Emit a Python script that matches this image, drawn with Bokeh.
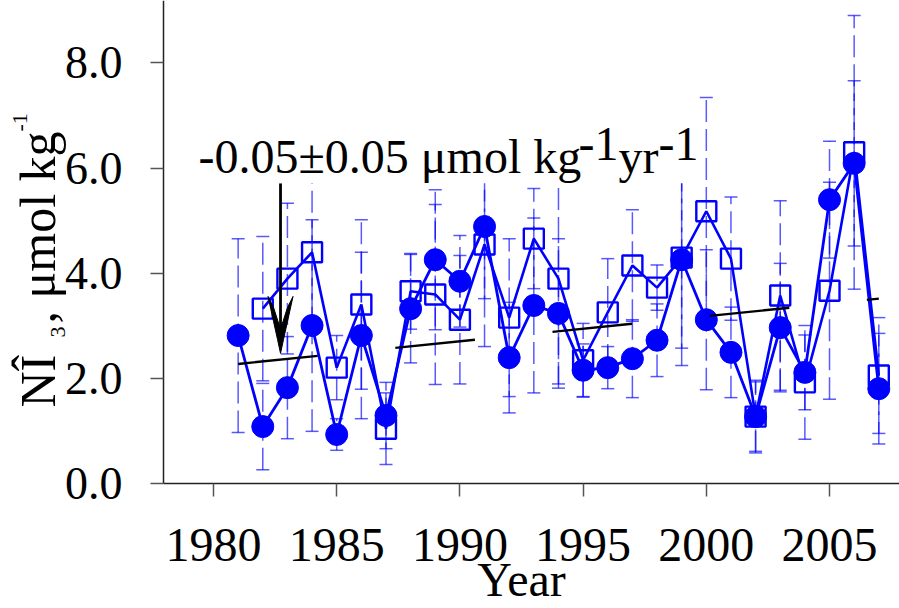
import math
from bokeh.plotting import figure
from bokeh.models import (ColumnDataSource, Whisker, TeeHead, Label, BoxAnnotation,
                          FixedTicker, NumeralTickFormatter, Range1d, LinearAxis, Grid)
from bokeh.embed import file_html
from bokeh.resources import INLINE

# ---------------- data ----------------
years_circle = list(range(1981, 2008))
circle_vals = [2.82, 1.09, 1.83, 3.01, 0.94, 2.82, 1.30, 3.33, 4.26, 3.85, 4.89, 2.40, 3.39,
               3.24, 2.16, 2.21, 2.38, 2.73, 4.26, 3.12, 2.50, 1.28, 2.97, 2.12, 5.40, 6.09, 1.81]
circle_err = [1.84, 0.82, 0.97, 2.01, 0.30, 1.58, 0.63, 1.03, 1.33, 0.87, 1.37, 1.05, 1.66,
              1.42, 0.50, 0.40, 0.74, 0.69, 1.68, 1.33, 0.86, 0.69, 1.22, 0.71, 1.11, 1.57, 1.05]

years_square = list(range(1982, 2008))
square_vals = [3.33, 3.90, 4.40, 2.21, 3.41, 1.05, 3.66, 3.60, 3.12, 4.55, 3.16, 4.66, 3.90,
               2.35, 3.26, 4.15, 3.73, 4.30, 5.18, 4.28, 1.28, 3.58, 1.93, 3.67, 6.30, 2.06]
square_err = [1.37, 1.43, 1.45, 0.61, 1.61, 0.68, 0.72, 1.71, 1.22, 1.94, 1.50, 0.95, 2.00,
              0.70, 1.02, 1.06, 0.43, 2.05, 2.16, 1.17, 0.66, 1.80, 1.08, 2.06, 2.60, 1.10]

trend_years = [1981, 2007]
trend_vals = [2.28, 3.52]

arrow_x = 1982.72
arrow_top = 5.71
arrow_tip = 2.48

x_ticks = [1980, 1985, 1990, 1995, 2000, 2005]
y_ticks = [0, 2, 4, 6, 8]

annot_main = "-0.05\u00b10.05 \u03bcmol kg"
annot_sup = "-1"
annot_yr = "yr"

# ---------------- figure ----------------
BLUE = "#0000ff"
FONT = "Liberation Serif"
W, H = 899, 608
XA, XB = 1971.356, 2007.84          # canvas edges in data units
YA, YB = -2.365, 9.183
AX_X0 = 1977.97                       # where the y axis sits
p = figure(width=W, height=H, x_range=Range1d(XA, XB), y_range=Range1d(YA, YB),
           output_backend="svg", toolbar_location=None,
           x_axis_location=None, y_axis_location=None,
           min_border_left=0, min_border_right=0, min_border_top=0, min_border_bottom=0)
p.outline_line_color = None
p.background_fill_color = "white"
p.border_fill_color = "white"
for r in list(p.center):
    if isinstance(r, Grid):
        r.visible = False

xax = LinearAxis(fixed_location=0, bounds=(AX_X0, XB), ticker=FixedTicker(ticks=x_ticks))
yax = LinearAxis(fixed_location=AX_X0, bounds=(0, YB), ticker=FixedTicker(ticks=y_ticks),
                 formatter=NumeralTickFormatter(format="0.0"))
for ax in (xax, yax):
    ax.axis_line_color = "#222222"
    ax.axis_line_width = 1.5
    ax.major_tick_line_color = "#555555"
    ax.major_tick_line_width = 1.5
    ax.major_tick_in = 0
    ax.major_tick_out = 13
    ax.minor_tick_line_color = None
    ax.major_label_text_font = FONT
    ax.major_label_text_color = "black"
xax.major_label_text_font_size = "48px"
xax.major_label_standoff = 32
yax.major_label_text_font_size = "46px"
yax.major_label_standoff = 28
p.add_layout(xax, "below")
p.add_layout(yax, "left")

# error bars
def add_whisker(xs, vals, errs):
    src = ColumnDataSource(dict(x=xs, lo=[v - e for v, e in zip(vals, errs)],
                                hi=[v + e for v, e in zip(vals, errs)]))
    head = dict(size=13, line_color=BLUE, line_alpha=0.65, line_width=1.5)
    w = Whisker(source=src, base="x", lower="lo", upper="hi", dimension="height",
                line_color=BLUE, line_alpha=0.65, line_width=1.5, line_dash="22 7",
                upper_head=TeeHead(**head), lower_head=TeeHead(**head))
    w.level = "underlay"
    p.add_layout(w)

add_whisker(years_circle, circle_vals, circle_err)
add_whisker(years_square, square_vals, square_err)

# series
p.line(years_square, square_vals, line_color=BLUE, line_width=2.6)
p.scatter(years_square, square_vals, marker="square", size=20, fill_color=None,
          line_color=BLUE, line_width=2.4)
p.line(years_circle, circle_vals, line_color=BLUE, line_width=2.8)
p.scatter(years_circle, circle_vals, marker="circle", size=22, fill_color=BLUE,
          line_color=BLUE)

# trend (dashed black)
p.line(trend_years, trend_vals, line_color="black", line_width=2.4, line_dash="80 78")

# white box behind annotation text
p.add_layout(BoxAnnotation(left=1979.1, right=1999.7, bottom=arrow_top, top=7.2,
                           fill_color="white", fill_alpha=1.0, line_color=None))

# arrow: shaft + swept head
px_x = W / (XB - XA)
px_y = H / (YB - YA)
p.segment(x0=[arrow_x], y0=[arrow_top], x1=[arrow_x], y1=[arrow_tip + 25 / px_y],
          line_color="black", line_width=2.8)
head_px = [(0, 0), (3, 14), (7, 32), (12.5, 57), (7, 46), (2.5, 32), (0, 26),
           (-2.5, 32), (-7, 46), (-12.5, 57), (-7, 32), (-3, 14)]
p.patch([arrow_x + dx / px_x for dx, dy in head_px],
        [arrow_tip + dy / px_y for dx, dy in head_px],
        fill_color="black", line_color="black", line_width=1)

SHIFT = 0.354  # measured offset of the rendered baseline, as a fraction of font size

def lab(x, y, text, size, angle=0.0, align="left"):
    # x, y: baseline start in pixels from the top-left corner of the canvas
    s = SHIFT * size
    if angle:
        x -= s
    else:
        y -= s
    p.add_layout(Label(x=x, y=H - y, x_units="screen", y_units="screen", text=text,
                       text_font=FONT, text_font_size=f"{size}px", text_color="black",
                       text_align=align, text_baseline="alphabetic", angle=angle))

# annotation text
lab(198, 173, annot_main, 48)
lab(578, 160, annot_sup, 48)
lab(618, 173, annot_yr, 48)
lab(658, 160, annot_sup, 48)

# axis titles
lab(521, 596, "Year", 48, align="center")
lab(55, 407, "N\u00ce", 50, angle=math.pi / 2)
lab(65, 337, "3", 22, angle=math.pi / 2)
lab(55, 323, ", \u03bcmol kg", 50, angle=math.pi / 2)
lab(27, 131, "-1", 22, angle=math.pi / 2)

open("out.html", "w").write(file_html(p, INLINE))
